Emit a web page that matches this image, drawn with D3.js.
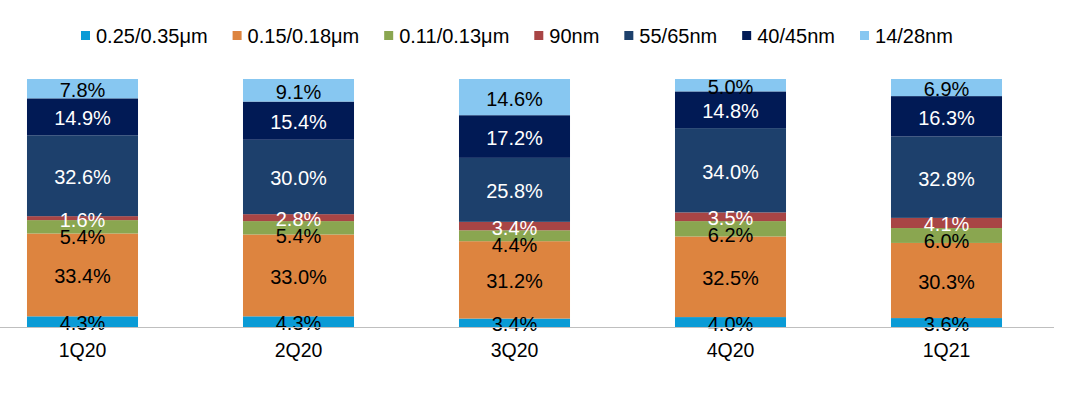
<!DOCTYPE html>
<html><head><meta charset="utf-8">
<script src="https://cdn.jsdelivr.net/npm/d3@7"></script>
<style>body{margin:0;background:#fff}svg{display:block}</style>
</head><body>
<script>
const categories = ["1Q20","2Q20","3Q20","4Q20","1Q21"];
const seriesNames = ["0.25/0.35μm","0.15/0.18μm","0.11/0.13μm","90nm","55/65nm","40/45nm","14/28nm"];
const s025 = [4.3,4.3,3.4,4.0,3.6];
const s015 = [33.4,33.0,31.2,32.5,30.3];
const s011 = [5.4,5.4,4.4,6.2,6.0];
const s90 = [1.6,2.8,3.4,3.5,4.1];
const s55 = [32.6,30.0,25.8,34.0,32.8];
const s40 = [14.9,15.4,17.2,14.8,16.3];
const s14 = [7.8,9.1,14.6,5.0,6.9];
const seriesValues = [s025,s015,s011,s90,s55,s40,s14];
const colors = ["#0A9BD6","#DD843F","#8AA650","#A84545","#1D406C","#011A55","#87C7F1"];
const labelColors = ["#000","#000","#000","#fff","#fff","#fff","#000"];

const W=1080,H=394;
const svg=d3.select("body").append("svg").attr("width",W).attr("height",H)
  .style("font-family","'Liberation Sans', Arial, sans-serif");

const x=d3.scaleBand().domain(categories).range([-25.5,1054.5]).paddingInner(0.486).paddingOuter(0.243);
const y=d3.scaleLinear().domain([0,100]).range([327,79]);

const rows=categories.map((c,i)=>{const o={cat:c};seriesNames.forEach((s,j)=>o[s]=seriesValues[j][i]);return o;});
const stacked=d3.stack().keys(seriesNames)(rows);

stacked.forEach((layer,j)=>{
  const g=svg.append("g");
  g.selectAll("rect").data(layer).join("rect")
    .attr("x",d=>x(d.data.cat)).attr("width",x.bandwidth())
    .attr("y",d=>y(d[1])).attr("height",d=>y(d[0])-y(d[1]))
    .attr("fill",colors[j]);
});

// label positions with simple overlap avoidance (lower label pushed down)
const labelPos=categories.map((c,i)=>stacked.map(layer=>(y(layer[i][0])+y(layer[i][1]))/2+1.5));
labelPos.forEach(arr=>{
  for(let j=arr.length-1;j>0;j--){
    // arr[j] is above arr[j-1]; ensure arr[j-1]-arr[j] >= 17
    if(arr[j-1]-arr[j]<17) arr[j-1]=arr[j]+17;
  }
});

stacked.forEach((layer,j)=>{
  svg.append("g").selectAll("text").data(layer).join("text")
    .attr("x",d=>x(d.data.cat)+x.bandwidth()/2)
    .attr("y",(d,i)=>labelPos[i][j])
    .attr("text-anchor","middle").attr("dominant-baseline","central")
    .attr("font-size",20).attr("fill",labelColors[j])
    .text(d=>(d[1]-d[0]).toFixed(1)+"%");
});

svg.append("line").attr("x1",0).attr("x2",1054).attr("y1",327.5).attr("y2",327.5)
  .attr("stroke","#BFBFBF").attr("stroke-width",1);

const xAxis=svg.append("g").attr("transform","translate(0,327)")
  .call(d3.axisBottom(x).tickSize(0).tickPadding(0));
xAxis.select(".domain").remove();
xAxis.selectAll("text").attr("font-size",19.5).attr("fill","#000")
  .attr("font-family","'Liberation Sans', Arial, sans-serif")
  .attr("dy",null).attr("y",30);

// legend
let lx=81;
seriesNames.forEach((s,j)=>{
  svg.append("rect").attr("x",lx).attr("y",31).attr("width",9).attr("height",9).attr("fill",colors[j]);
  const t=svg.append("text").attr("x",lx+15).attr("y",43).attr("font-size",20).attr("fill","#000").text(s);
  lx=lx+15+t.node().getComputedTextLength()+25;
});
</script>
</body></html>
